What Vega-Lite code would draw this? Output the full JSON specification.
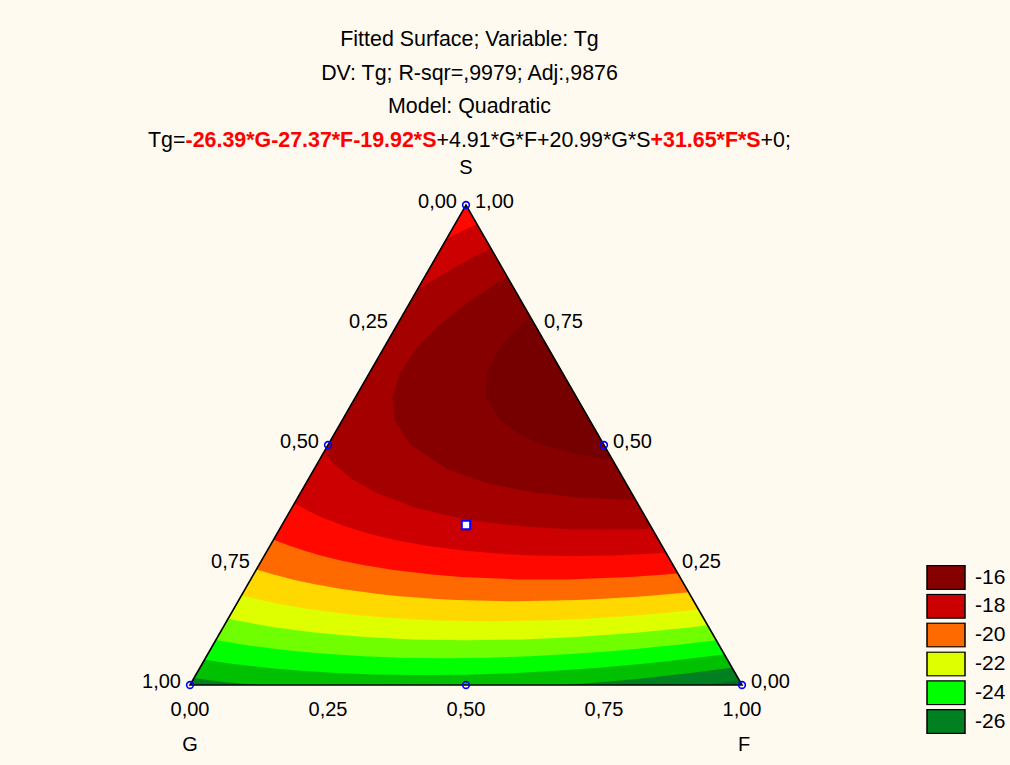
{
  "$schema": "https://vega.github.io/schema/vega-lite/v6.json",
  "width": 552,
  "height": 480,
  "autosize": {"type": "none"},
  "padding": {"left": 190, "top": 205, "right": 268, "bottom": 80},
  "background": "#fffaf0",
  "config": {"view": {"stroke": null}, "font": "Liberation Sans"},
  "datasets": {
    "bands": [
      {"band": -27, "k": 0, "x": 0, "y": 0}, {"band": -27, "k": 1, "x": 1, "y": 0}, {"band": -27, "k": 2, "x": 0.5, "y": 1},

      {"band": -26, "k": 0, "x": 0, "y": 0}, {"band": -26, "k": 1, "x": 0.9335, "y": 0}, {"band": -26, "k": 2, "x": 0.9665, "y": 0.005},
      {"band": -26, "k": 3, "x": 0.9952, "y": 0.0095}, {"band": -26, "k": 4, "x": 0.5, "y": 1},

      {"band": -25, "k": 0, "x": 0.1162, "y": 0}, {"band": -25, "k": 1, "x": 0.6842, "y": 0}, {"band": -25, "k": 2, "x": 0.7487, "y": 0.006},
      {"band": -25, "k": 3, "x": 0.8043, "y": 0.012}, {"band": -25, "k": 4, "x": 0.854, "y": 0.018}, {"band": -25, "k": 5, "x": 0.8995, "y": 0.024},
      {"band": -25, "k": 6, "x": 0.9417, "y": 0.03}, {"band": -25, "k": 7, "x": 0.982, "y": 0.0361}, {"band": -25, "k": 8, "x": 0.5, "y": 1},
      {"band": -25, "k": 9, "x": 0.0072, "y": 0.0144}, {"band": -25, "k": 10, "x": 0.0288, "y": 0.011}, {"band": -25, "k": 11, "x": 0.0571, "y": 0.007},
      {"band": -25, "k": 12, "x": 0.0848, "y": 0.0035},

      {"band": -24, "k": 0, "x": 0.4225, "y": 0.0206}, {"band": -24, "k": 1, "x": 0.5164, "y": 0.022}, {"band": -24, "k": 2, "x": 0.589, "y": 0.025},
      {"band": -24, "k": 3, "x": 0.6681, "y": 0.03}, {"band": -24, "k": 4, "x": 0.7287, "y": 0.035}, {"band": -24, "k": 5, "x": 0.7801, "y": 0.04},
      {"band": -24, "k": 6, "x": 0.8257, "y": 0.045}, {"band": -24, "k": 7, "x": 0.8671, "y": 0.05}, {"band": -24, "k": 8, "x": 0.9413, "y": 0.06},
      {"band": -24, "k": 9, "x": 0.9681, "y": 0.0639}, {"band": -24, "k": 10, "x": 0.5, "y": 1}, {"band": -24, "k": 11, "x": 0.0264, "y": 0.0527},
      {"band": -24, "k": 12, "x": 0.0418, "y": 0.05}, {"band": -24, "k": 13, "x": 0.0724, "y": 0.045}, {"band": -24, "k": 14, "x": 0.1071, "y": 0.04},
      {"band": -24, "k": 15, "x": 0.1477, "y": 0.035}, {"band": -24, "k": 16, "x": 0.1975, "y": 0.03}, {"band": -24, "k": 17, "x": 0.2657, "y": 0.025},
      {"band": -24, "k": 18, "x": 0.3318, "y": 0.022},

      {"band": -23, "k": 0, "x": 0.4608, "y": 0.0559}, {"band": -23, "k": 1, "x": 0.5402, "y": 0.057}, {"band": -23, "k": 2, "x": 0.6167, "y": 0.06},
      {"band": -23, "k": 3, "x": 0.6961, "y": 0.065}, {"band": -23, "k": 4, "x": 0.7562, "y": 0.07}, {"band": -23, "k": 5, "x": 0.807, "y": 0.075},
      {"band": -23, "k": 6, "x": 0.8519, "y": 0.08}, {"band": -23, "k": 7, "x": 0.8927, "y": 0.085}, {"band": -23, "k": 8, "x": 0.9304, "y": 0.09},
      {"band": -23, "k": 9, "x": 0.9534, "y": 0.0932}, {"band": -23, "k": 10, "x": 0.5, "y": 1}, {"band": -23, "k": 11, "x": 0.0469, "y": 0.0938},
      {"band": -23, "k": 12, "x": 0.0654, "y": 0.09}, {"band": -23, "k": 13, "x": 0.0922, "y": 0.085}, {"band": -23, "k": 14, "x": 0.1221, "y": 0.08},
      {"band": -23, "k": 15, "x": 0.1562, "y": 0.075}, {"band": -23, "k": 16, "x": 0.1962, "y": 0.07}, {"band": -23, "k": 17, "x": 0.2454, "y": 0.065},
      {"band": -23, "k": 18, "x": 0.314, "y": 0.06}, {"band": -23, "k": 19, "x": 0.3839, "y": 0.057},

      {"band": -22, "k": 0, "x": 0.5013, "y": 0.0931}, {"band": -22, "k": 1, "x": 0.6037, "y": 0.095}, {"band": -22, "k": 2, "x": 0.6999, "y": 0.1},
      {"band": -22, "k": 3, "x": 0.7648, "y": 0.105}, {"band": -22, "k": 4, "x": 0.8178, "y": 0.11}, {"band": -22, "k": 5, "x": 0.8639, "y": 0.115},
      {"band": -22, "k": 6, "x": 0.9053, "y": 0.12}, {"band": -22, "k": 7, "x": 0.9379, "y": 0.1243}, {"band": -22, "k": 8, "x": 0.5, "y": 1},
      {"band": -22, "k": 9, "x": 0.069, "y": 0.138}, {"band": -22, "k": 10, "x": 0.104, "y": 0.13}, {"band": -22, "k": 11, "x": 0.1285, "y": 0.125},
      {"band": -22, "k": 12, "x": 0.1557, "y": 0.12}, {"band": -22, "k": 13, "x": 0.1862, "y": 0.115}, {"band": -22, "k": 14, "x": 0.2215, "y": 0.11},
      {"band": -22, "k": 15, "x": 0.2635, "y": 0.105}, {"band": -22, "k": 16, "x": 0.3176, "y": 0.1}, {"band": -22, "k": 17, "x": 0.4029, "y": 0.095},

      {"band": -21, "k": 0, "x": 0.544, "y": 0.1325}, {"band": -21, "k": 1, "x": 0.6595, "y": 0.135}, {"band": -21, "k": 2, "x": 0.7461, "y": 0.14},
      {"band": -21, "k": 3, "x": 0.8072, "y": 0.145}, {"band": -21, "k": 4, "x": 0.8577, "y": 0.15}, {"band": -21, "k": 5, "x": 0.9018, "y": 0.155},
      {"band": -21, "k": 6, "x": 0.9213, "y": 0.1574}, {"band": -21, "k": 7, "x": 0.5, "y": 1}, {"band": -21, "k": 8, "x": 0.0932, "y": 0.1864},
      {"band": -21, "k": 9, "x": 0.1163, "y": 0.18}, {"band": -21, "k": 10, "x": 0.1571, "y": 0.17}, {"band": -21, "k": 11, "x": 0.2062, "y": 0.16},
      {"band": -21, "k": 12, "x": 0.2351, "y": 0.155}, {"band": -21, "k": 13, "x": 0.2684, "y": 0.15}, {"band": -21, "k": 14, "x": 0.308, "y": 0.145},
      {"band": -21, "k": 15, "x": 0.3583, "y": 0.14}, {"band": -21, "k": 16, "x": 0.434, "y": 0.135},

      {"band": -20, "k": 0, "x": 0.5895, "y": 0.1744}, {"band": -20, "k": 1, "x": 0.7022, "y": 0.177}, {"band": -20, "k": 2, "x": 0.757, "y": 0.18},
      {"band": -20, "k": 3, "x": 0.8228, "y": 0.185}, {"band": -20, "k": 4, "x": 0.875, "y": 0.19}, {"band": -20, "k": 5, "x": 0.9035, "y": 0.1931},
      {"band": -20, "k": 6, "x": 0.5, "y": 1}, {"band": -20, "k": 7, "x": 0.1203, "y": 0.2405}, {"band": -20, "k": 8, "x": 0.1514, "y": 0.23},
      {"band": -20, "k": 9, "x": 0.1856, "y": 0.22}, {"band": -20, "k": 10, "x": 0.2258, "y": 0.21}, {"band": -20, "k": 11, "x": 0.2747, "y": 0.2},
      {"band": -20, "k": 12, "x": 0.3379, "y": 0.19}, {"band": -20, "k": 13, "x": 0.3793, "y": 0.185}, {"band": -20, "k": 14, "x": 0.4342, "y": 0.18},
      {"band": -20, "k": 15, "x": 0.4825, "y": 0.177},

      {"band": -19, "k": 0, "x": 0.6386, "y": 0.2196}, {"band": -19, "k": 1, "x": 0.6828, "y": 0.22}, {"band": -19, "k": 2, "x": 0.7977, "y": 0.225},
      {"band": -19, "k": 3, "x": 0.8616, "y": 0.23}, {"band": -19, "k": 4, "x": 0.884, "y": 0.2321}, {"band": -19, "k": 5, "x": 0.5, "y": 1},
      {"band": -19, "k": 6, "x": 0.1514, "y": 0.3028}, {"band": -19, "k": 7, "x": 0.1804, "y": 0.29}, {"band": -19, "k": 8, "x": 0.2065, "y": 0.28},
      {"band": -19, "k": 9, "x": 0.2365, "y": 0.27}, {"band": -19, "k": 10, "x": 0.2715, "y": 0.26}, {"band": -19, "k": 11, "x": 0.3134, "y": 0.25},
      {"band": -19, "k": 12, "x": 0.3658, "y": 0.24}, {"band": -19, "k": 13, "x": 0.4381, "y": 0.23}, {"band": -19, "k": 14, "x": 0.4912, "y": 0.225},
      {"band": -19, "k": 15, "x": 0.5952, "y": 0.22},

      {"band": -18, "k": 0, "x": 0.692, "y": 0.2688}, {"band": -18, "k": 1, "x": 0.7638, "y": 0.27}, {"band": -18, "k": 2, "x": 0.8178, "y": 0.2725},
      {"band": -18, "k": 3, "x": 0.8623, "y": 0.2755}, {"band": -18, "k": 4, "x": 0.5201, "y": 0.9599}, {"band": -18, "k": 5, "x": 0.5016, "y": 0.95},
      {"band": -18, "k": 6, "x": 0.4834, "y": 0.94}, {"band": -18, "k": 7, "x": 0.4647, "y": 0.9294}, {"band": -18, "k": 8, "x": 0.1894, "y": 0.3788},
      {"band": -18, "k": 9, "x": 0.2102, "y": 0.365}, {"band": -18, "k": 10, "x": 0.2371, "y": 0.35}, {"band": -18, "k": 11, "x": 0.2819, "y": 0.33},
      {"band": -18, "k": 12, "x": 0.3247, "y": 0.315}, {"band": -18, "k": 13, "x": 0.3801, "y": 0.3}, {"band": -18, "k": 14, "x": 0.4284, "y": 0.29},
      {"band": -18, "k": 15, "x": 0.4944, "y": 0.28}, {"band": -18, "k": 16, "x": 0.5744, "y": 0.2725}, {"band": -18, "k": 17, "x": 0.6228, "y": 0.27},

      {"band": -17, "k": 0, "x": 0.7511, "y": 0.3232}, {"band": -17, "k": 1, "x": 0.8177, "y": 0.3245}, {"band": -17, "k": 2, "x": 0.8374, "y": 0.3253},
      {"band": -17, "k": 3, "x": 0.545, "y": 0.9101}, {"band": -17, "k": 4, "x": 0.5111, "y": 0.89}, {"band": -17, "k": 5, "x": 0.4794, "y": 0.87},
      {"band": -17, "k": 6, "x": 0.4496, "y": 0.85}, {"band": -17, "k": 7, "x": 0.4217, "y": 0.83}, {"band": -17, "k": 8, "x": 0.411, "y": 0.8219},
      {"band": -17, "k": 9, "x": 0.2432, "y": 0.4863}, {"band": -17, "k": 10, "x": 0.2611, "y": 0.46}, {"band": -17, "k": 11, "x": 0.2919, "y": 0.43},
      {"band": -17, "k": 12, "x": 0.3376, "y": 0.4}, {"band": -17, "k": 13, "x": 0.4071, "y": 0.37}, {"band": -17, "k": 14, "x": 0.4782, "y": 0.35},
      {"band": -17, "k": 15, "x": 0.529, "y": 0.34}, {"band": -17, "k": 16, "x": 0.6053, "y": 0.33}, {"band": -17, "k": 17, "x": 0.6873, "y": 0.3245},

      {"band": -16, "k": 0, "x": 0.8073, "y": 0.3855}, {"band": -16, "k": 1, "x": 0.5751, "y": 0.8499}, {"band": -16, "k": 2, "x": 0.5605, "y": 0.84},
      {"band": -16, "k": 3, "x": 0.5327, "y": 0.82}, {"band": -16, "k": 4, "x": 0.5069, "y": 0.8}, {"band": -16, "k": 5, "x": 0.4515, "y": 0.75},
      {"band": -16, "k": 6, "x": 0.4091, "y": 0.7}, {"band": -16, "k": 7, "x": 0.3803, "y": 0.65}, {"band": -16, "k": 8, "x": 0.3667, "y": 0.6},
      {"band": -16, "k": 9, "x": 0.3711, "y": 0.55}, {"band": -16, "k": 10, "x": 0.3995, "y": 0.5}, {"band": -16, "k": 11, "x": 0.4655, "y": 0.45},
      {"band": -16, "k": 12, "x": 0.5401, "y": 0.42}, {"band": -16, "k": 13, "x": 0.6267, "y": 0.4}, {"band": -16, "k": 14, "x": 0.707, "y": 0.39},

      {"band": -15, "k": 0, "x": 0.7658, "y": 0.4684}, {"band": -15, "k": 1, "x": 0.6165, "y": 0.767}, {"band": -15, "k": 2, "x": 0.5993, "y": 0.75},
      {"band": -15, "k": 3, "x": 0.5816, "y": 0.73}, {"band": -15, "k": 4, "x": 0.5598, "y": 0.7}, {"band": -15, "k": 5, "x": 0.5378, "y": 0.65},
      {"band": -15, "k": 6, "x": 0.5364, "y": 0.6}, {"band": -15, "k": 7, "x": 0.5633, "y": 0.55}, {"band": -15, "k": 8, "x": 0.6004, "y": 0.52},
      {"band": -15, "k": 9, "x": 0.6401, "y": 0.5}, {"band": -15, "k": 10, "x": 0.7032, "y": 0.48}
    ],
    "frame": [
      {"k": 0, "x": 0, "y": 0}, {"k": 1, "x": 1, "y": 0}, {"k": 2, "x": 0.5, "y": 1}
    ],
    "runs": [
      {"x": 0.5, "y": 1}, {"x": 0, "y": 0}, {"x": 1, "y": 0},
      {"x": 0.25, "y": 0.5}, {"x": 0.75, "y": 0.5}, {"x": 0.5, "y": 0}
    ],
    "centre": [{"x": 0.5, "y": 0.33333}],
    "gTicks": [
      {"x": 0.5, "y": 1, "t": "0,00"}, {"x": 0.375, "y": 0.75, "t": "0,25"}, {"x": 0.25, "y": 0.5, "t": "0,50"},
      {"x": 0.125, "y": 0.25, "t": "0,75"}, {"x": 0, "y": 0, "t": "1,00"}
    ],
    "sTicks": [
      {"x": 0.5, "y": 1, "t": "1,00"}, {"x": 0.625, "y": 0.75, "t": "0,75"}, {"x": 0.75, "y": 0.5, "t": "0,50"},
      {"x": 0.875, "y": 0.25, "t": "0,25"}, {"x": 1, "y": 0, "t": "0,00"}
    ],
    "fTicks": [
      {"x": 0, "y": 0, "t": "0,00"}, {"x": 0.25, "y": 0, "t": "0,25"}, {"x": 0.5, "y": 0, "t": "0,50"},
      {"x": 0.75, "y": 0, "t": "0,75"}, {"x": 1, "y": 0, "t": "1,00"}
    ],
    "corners": [
      {"x": 0.5, "y": 1.0771, "t": "S"}, {"x": 0, "y": -0.125, "t": "G"}, {"x": 1.0036, "y": -0.125, "t": "F"}
    ],
    "heading": [
      {"x": 0.5063, "y": 1.3438, "t": "Fitted Surface; Variable: Tg"},
      {"x": 0.5063, "y": 1.2729, "t": "DV: Tg; R-sqr=,9979; Adj:,9876"},
      {"x": 0.5063, "y": 1.2042, "t": "Model: Quadratic"}
    ],
    "eqPlain": [
      {"x": -0.0761, "y": 1.1333, "t": "Tg="},
      {"x": 0.4466, "y": 1.1333, "t": "+4.91*G*F+20.99*G*S"},
      {"x": 1.0337, "y": 1.1333, "t": "+0;"}
    ],
    "eqCoef": [
      {"x": -0.0081, "y": 1.1333, "t": "-26.39*G-27.37*F-19.92*S"},
      {"x": 0.8344, "y": 1.1333, "t": "+31.65*F*S"}
    ]
  },
  "encoding": {
    "x": {"field": "x", "type": "quantitative", "scale": {"domain": [0, 1], "nice": false, "zero": false}, "axis": null},
    "y": {"field": "y", "type": "quantitative", "scale": {"domain": [0, 1], "nice": false, "zero": false}, "axis": null}
  },
  "layer": [
    {
      "data": {"name": "bands"},
      "mark": {"type": "line", "interpolate": "linear-closed", "stroke": "transparent", "strokeWidth": 0},
      "encoding": {
        "fill": {
          "field": "band",
          "type": "ordinal",
          "scale": {
            "domain": [-27, -26, -25, -24, -23, -22, -21, -20, -19, -18, -17, -16, -15],
            "range": ["#006c22", "#008020", "#00c000", "#00ff00", "#70ff00", "#ddff00", "#ffd800", "#ff6a00", "#ff0800", "#cc0000", "#a50000", "#860000", "#760000"]
          },
          "legend": {
            "orient": "none",
            "legendX": 736,
            "legendY": 360,
            "values": [-16, -18, -20, -22, -24, -26],
            "title": null,
            "padding": 0,
            "symbolType": "M-1,-0.632H1V0.632H-1Z",
            "symbolSize": 1444,
            "symbolStrokeColor": "#000000",
            "symbolStrokeWidth": 1.5,
            "symbolOpacity": 1,
            "labelFont": "Liberation Sans",
            "labelFontSize": 21,
            "labelColor": "#000000",
            "labelOffset": 9,
            "clipHeight": 25,
            "rowPadding": 3.8
          }
        },
        "detail": {"field": "band", "type": "ordinal"},
        "order": {"field": "k", "type": "quantitative"}
      }
    },
    {
      "data": {"name": "frame"},
      "mark": {"type": "line", "interpolate": "linear-closed", "stroke": "#000000", "strokeWidth": 1.6},
      "encoding": {"order": {"field": "k", "type": "quantitative"}}
    },
    {
      "data": {"name": "runs"},
      "mark": {"type": "point", "shape": "circle", "size": 45, "filled": false, "stroke": "#0000ff", "strokeWidth": 1.6, "opacity": 1}
    },
    {
      "data": {"name": "centre"},
      "mark": {"type": "point", "shape": "square", "size": 70, "filled": true, "fill": "#ffffff", "stroke": "#0000ff", "strokeWidth": 2, "opacity": 1}
    },
    {
      "data": {"name": "gTicks"},
      "mark": {"type": "text", "align": "right", "baseline": "middle", "dx": -9, "dy": -3, "fontSize": 20, "color": "#000000"},
      "encoding": {"text": {"field": "t", "type": "nominal"}}
    },
    {
      "data": {"name": "sTicks"},
      "mark": {"type": "text", "align": "left", "baseline": "middle", "dx": 9, "dy": -3, "fontSize": 20, "color": "#000000"},
      "encoding": {"text": {"field": "t", "type": "nominal"}}
    },
    {
      "data": {"name": "fTicks"},
      "mark": {"type": "text", "align": "center", "baseline": "middle", "dy": 25, "fontSize": 20, "color": "#000000"},
      "encoding": {"text": {"field": "t", "type": "nominal"}}
    },
    {
      "data": {"name": "corners"},
      "mark": {"type": "text", "align": "center", "baseline": "middle", "fontSize": 20, "color": "#000000"},
      "encoding": {"text": {"field": "t", "type": "nominal"}}
    },
    {
      "data": {"name": "heading"},
      "mark": {"type": "text", "align": "center", "baseline": "middle", "fontSize": 21.4, "color": "#000000"},
      "encoding": {"text": {"field": "t", "type": "nominal"}}
    },
    {
      "data": {"name": "eqPlain"},
      "mark": {"type": "text", "align": "left", "baseline": "middle", "fontSize": 21.4, "color": "#000000"},
      "encoding": {"text": {"field": "t", "type": "nominal"}}
    },
    {
      "data": {"name": "eqCoef"},
      "mark": {"type": "text", "align": "left", "baseline": "middle", "fontSize": 21.4, "fontWeight": "bold", "color": "#ff0000"},
      "encoding": {"text": {"field": "t", "type": "nominal"}}
    }
  ]
}
